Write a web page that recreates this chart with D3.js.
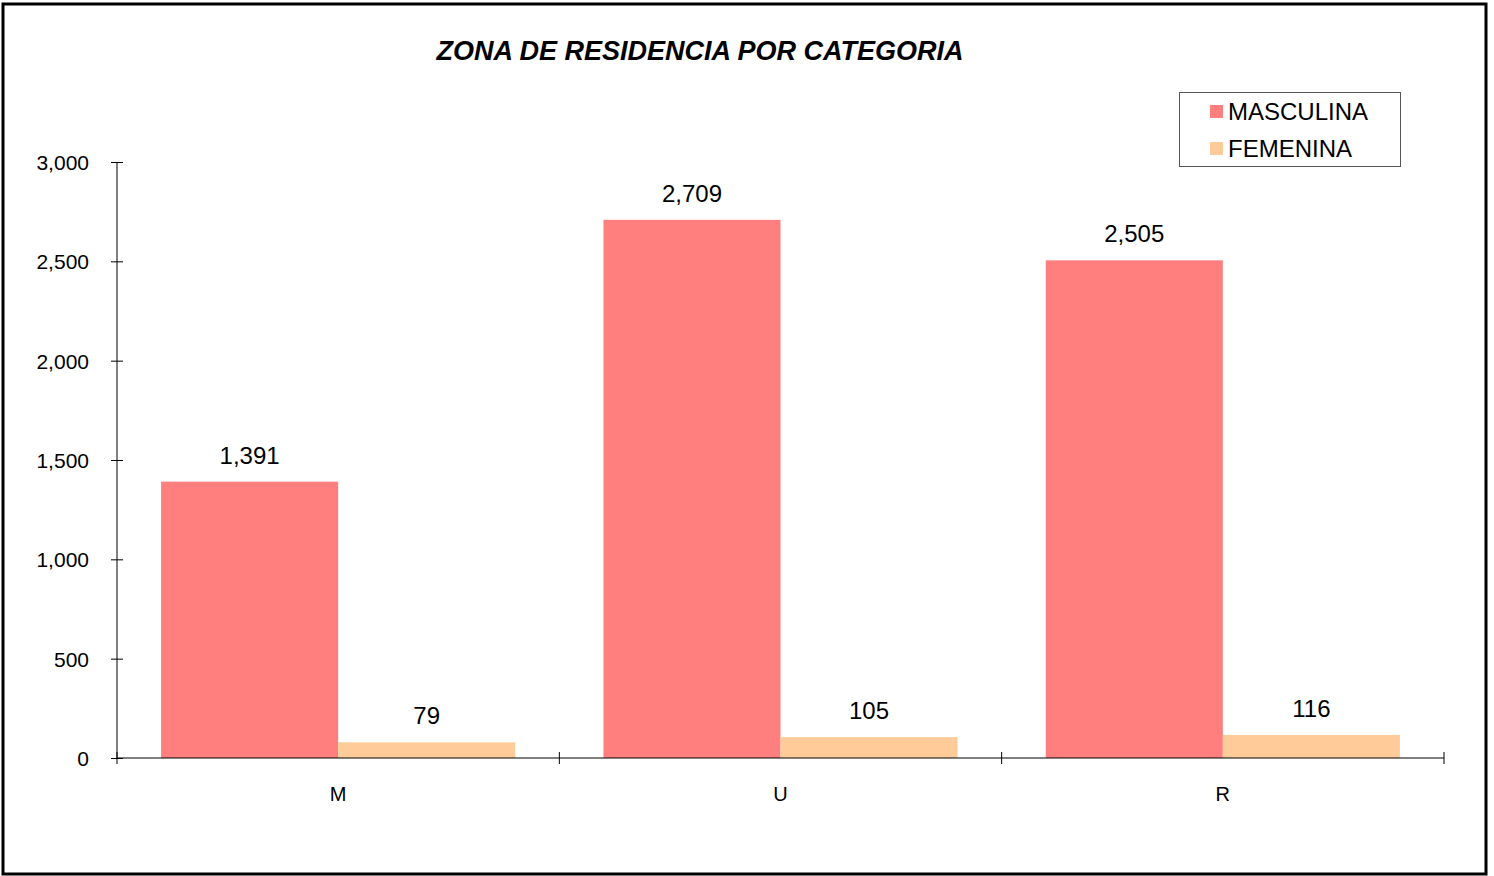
<!DOCTYPE html>
<html>
<body style="margin: 0; background: #fff">
  <script src="https://d3js.org/d3.v7.min.js"></script>

  <script>
    const categories = ["M", "U", "R"];
    const seriesNames = ["MASCULINA", "FEMENINA"];
    const masculina = [1391, 2709, 2505];
    const femenina = [79, 105, 116];
    const yTicks = [0, 500, 1000, 1500, 2000, 2500, 3000];
    const colors = ["#FF7F7F", "#FFCC99"];

    const start = () => {
      const width = 1494;
      const height = 876;
      const font = "'Liberation Sans', Arial, sans-serif";

      const svg = d3.select("body").append("svg")
        .attr("width", width)
        .attr("height", height)
        .style("display", "block");

      // outer frame
      svg.append("rect")
        .attr("x", 3).attr("y", 4)
        .attr("width", 1483).attr("height", 870)
        .attr("fill", "#fff")
        .attr("stroke", "#000")
        .attr("stroke-width", 3);

      const left = 117, right = 1444, top = 162, bottom = 758;

      const x = d3.scaleBand()
        .domain(categories)
        .range([left, right]);

      const xs = d3.scaleBand()
        .domain(seriesNames)
        .range([0, x.bandwidth()])
        .paddingOuter(0.249);

      const y = d3.scaleLinear()
        .domain([0, 3000])
        .range([bottom, top]);

      const data = categories.map((c, i) => ({
        cat: c,
        values: [masculina[i], femenina[i]]
      }));

      const groups = svg.selectAll("g.grp")
        .data(data)
        .enter()
        .append("g")
        .attr("transform", (d) => `translate(${x(d.cat)},0)`);

      groups.selectAll("rect")
        .data((d) => d.values.map((v, j) => ({ name: seriesNames[j], v: v, j: j })))
        .enter()
        .append("rect")
        .attr("x", (d) => xs(d.name))
        .attr("y", (d) => y(d.v))
        .attr("width", xs.bandwidth())
        .attr("height", (d) => bottom - y(d.v))
        .attr("fill", (d) => colors[d.j]);

      groups.selectAll("text")
        .data((d) => d.values.map((v, j) => ({ name: seriesNames[j], v: v })))
        .enter()
        .append("text")
        .attr("x", (d) => xs(d.name) + xs.bandwidth() / 2)
        .attr("y", (d) => y(d.v) - 18)
        .attr("text-anchor", "middle")
        .style("font-family", font)
        .style("font-size", "24px")
        .text((d) => d3.format(",")(d.v));

      // y axis
      const yAxis = svg.append("g")
        .attr("transform", `translate(${left},0)`)
        .call(d3.axisLeft(y).tickValues(yTicks).tickFormat(d3.format(",")).tickSize(6).tickPadding(22));
      yAxis.select(".domain").attr("d", `M0,${top}V${bottom}`);
      yAxis.selectAll(".tick line").attr("x1", -6).attr("x2", 6);
      yAxis.selectAll("text")
        .style("font-family", font)
        .style("font-size", "21px")
        .attr("dy", "0.35em");

      // x axis
      const xAxis = svg.append("g")
        .attr("transform", `translate(0,${bottom})`);
      xAxis.append("line")
        .attr("x1", left).attr("x2", right)
        .attr("stroke", "#000");
      const edges = categories.map((c) => x(c)).concat([right]);
      xAxis.selectAll("line.tk")
        .data(edges)
        .enter()
        .append("line")
        .attr("x1", (d) => d).attr("x2", (d) => d)
        .attr("y1", -6).attr("y2", 6)
        .attr("stroke", "#000");
      xAxis.selectAll("text")
        .data(categories)
        .enter()
        .append("text")
        .attr("x", (d) => x(d) + x.bandwidth() / 2)
        .attr("y", 43)
        .attr("text-anchor", "middle")
        .style("font-family", font)
        .style("font-size", "20px")
        .text((d) => d);

      // title
      svg.append("text")
        .attr("x", 700)
        .attr("y", 60)
        .attr("text-anchor", "middle")
        .style("font-family", font)
        .style("font-size", "27px")
        .style("font-weight", "bold")
        .style("font-style", "italic")
        .text("ZONA DE RESIDENCIA POR CATEGORIA");

      // legend
      const legend = svg.append("g");
      legend.append("rect")
        .attr("x", 1179.5).attr("y", 92.5)
        .attr("width", 221).attr("height", 74)
        .attr("fill", "#fff")
        .attr("stroke", "#555");
      seriesNames.forEach((s, i) => {
        legend.append("rect")
          .attr("x", 1210).attr("y", 105 + i * 37)
          .attr("width", 13).attr("height", 13)
          .attr("fill", colors[i]);
        legend.append("text")
          .attr("x", 1228).attr("y", 120 + i * 37)
          .style("font-family", font)
          .style("font-size", "24px")
          .text(s);
      });
    };

    document.addEventListener("DOMContentLoaded", () => {
      start();
    }, false);
  </script>
</body>
</html>
